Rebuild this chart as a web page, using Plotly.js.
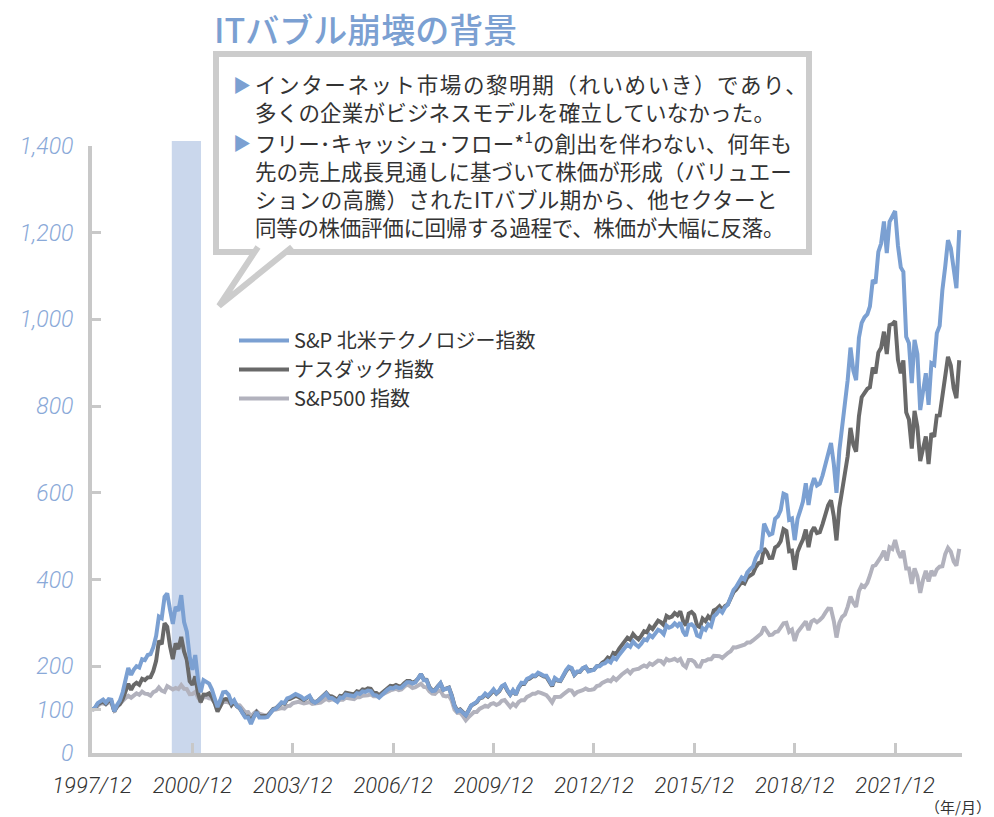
<!DOCTYPE html>
<html>
<head>
<meta charset="utf-8">
<script src="https://cdn.plot.ly/plotly-3.0.1.min.js"></script>
<style>
  html, body { margin: 0; padding: 0; background: #fff; }
  #chart { width: 994px; height: 817px; }
</style>
</head>
<body>
<div id="chart"></div>
<script>
// Monthly index values, 1997/12 = 100, from 1997/12 to 2023/11
const firstMonth = [1997, 12];

const techIndex = [
  100,
  104, 115, 120, 123, 116, 124, 123, 96, 111, 121, 140, 168,
  196, 180, 192, 200, 197, 216, 214, 226, 228, 244, 270, 315,
  311, 360, 368, 330, 298, 337, 328, 364, 302, 280, 222, 192,
  226, 168, 140, 168, 165, 160, 147, 128, 106, 122, 140, 141,
  134, 116, 122, 108, 104, 92, 82, 82, 67, 82, 94, 82,
  81, 82, 83, 91, 100, 102, 111, 117, 115, 126, 128, 131,
  136, 133, 130, 124, 128, 132, 120, 116, 120, 125, 133, 137,
  127, 127, 123, 118, 128, 127, 135, 133, 133, 131, 138, 136,
  142, 141, 144, 143, 134, 133, 128, 135, 140, 146, 150, 149,
  153, 150, 151, 158, 163, 163, 160, 163, 171, 182, 168, 168,
  150, 143, 144, 153, 161, 146, 147, 150, 131, 108, 96, 99,
  93, 87, 97, 110, 114, 118, 127, 129, 137, 132, 139, 147,
  138, 144, 154, 158, 145, 135, 145, 135, 152, 162, 161, 171,
  174, 179, 178, 185, 182, 178, 178, 166, 156, 173, 168, 167,
  181, 191, 199, 196, 181, 188, 188, 196, 199, 188, 190, 192,
  200, 200, 205, 207, 213, 209, 220, 216, 226, 235, 243, 250,
  245, 257, 250, 245, 252, 262, 260, 272, 267, 275, 284, 281,
  274, 294, 289, 292, 299, 293, 301, 280, 270, 295, 297, 291,
  271, 268, 288, 284, 297, 292, 315, 321, 330, 324, 336, 342,
  361, 376, 383, 393, 405, 400, 416, 424, 430, 449, 462, 468,
  529, 514, 503, 506, 540, 546, 560, 598, 595, 538, 541, 491,
  540, 560, 580, 622, 572, 614, 634, 617, 621, 640, 666, 693,
  715, 666, 600, 697, 752, 798, 860, 935, 882, 860, 958, 992,
  1005, 1012, 1030, 1091, 1083, 1156, 1175, 1226, 1153, 1225, 1240, 1250,
  1170, 1120, 1110, 960, 945, 853, 953, 920, 791, 835, 876, 803,
  899, 895, 968, 985, 1068, 1122, 1183, 1164, 1114, 1072, 1206
];

const nasdaqIndex = [
  100,
  103.1, 112.7, 116.9, 119.0, 113.3, 120.7, 119.2, 95.5, 107.9, 112.8, 124.1, 139.6,
  159.6, 145.7, 156.7, 161.9, 157.3, 171.1, 168.0, 174.4, 174.9, 188.9, 212.4, 259.1,
  250.9, 299.1, 291.2, 245.8, 216.6, 252.6, 239.9, 267.9, 233.9, 214.6, 165.4, 157.3,
  176.6, 137.0, 117.2, 134.8, 134.4, 137.6, 129.1, 115.0, 95.4, 107.6, 122.9, 124.2,
  123.2, 110.3, 117.5, 107.5, 102.9, 93.2, 84.6, 83.7, 74.6, 84.7, 94.2, 85.0,
  84.1, 85.2, 85.4, 93.2, 101.6, 103.3, 110.5, 115.3, 113.8, 123.0, 124.8, 127.6,
  131.6, 129.3, 127.0, 122.3, 126.5, 130.4, 120.2, 117.1, 120.8, 125.8, 133.5, 138.5,
  131.3, 130.7, 127.3, 122.4, 131.7, 131.0, 139.1, 137.0, 137.0, 135.0, 142.2, 140.4,
  146.8, 145.3, 149.0, 147.9, 138.8, 138.3, 133.2, 139.1, 143.8, 150.7, 154.9, 153.8,
  156.9, 153.9, 154.2, 160.8, 165.9, 165.8, 162.1, 165.3, 172.0, 182.1, 169.5, 168.9,
  152.2, 144.6, 145.1, 153.6, 160.6, 146.0, 148.1, 150.8, 133.2, 109.6, 97.8, 100.4,
  94.0, 87.7, 97.3, 109.4, 113.0, 116.9, 126.0, 127.9, 135.2, 130.2, 136.6, 144.5,
  136.7, 142.5, 152.7, 156.7, 143.7, 134.3, 143.6, 134.6, 150.8, 159.7, 159.1, 168.9,
  171.9, 177.2, 177.1, 183.0, 180.6, 176.6, 175.5, 164.3, 153.8, 170.9, 166.9, 165.9,
  179.2, 188.9, 196.9, 194.0, 180.0, 186.9, 187.2, 195.3, 198.4, 189.6, 191.7, 192.3,
  200.1, 201.2, 208.1, 212.0, 220.1, 216.7, 230.9, 228.6, 240.2, 249.6, 258.5, 266.0,
  261.3, 274.3, 267.4, 262.0, 270.2, 280.7, 278.3, 291.7, 286.1, 294.9, 305.1, 301.6,
  295.2, 316.1, 312.1, 314.7, 322.9, 317.6, 326.6, 304.2, 294.2, 321.8, 325.3, 318.9,
  293.8, 290.3, 310.1, 304.1, 315.1, 308.4, 328.7, 332.0, 338.3, 330.4, 339.0, 342.8,
  357.6, 371.0, 376.5, 385.1, 394.7, 391.0, 404.3, 409.4, 413.7, 428.4, 437.7, 439.6,
  472.0, 463.1, 449.8, 450.0, 473.9, 478.3, 488.5, 516.4, 512.4, 465.2, 466.8, 422.5,
  463.7, 479.7, 492.2, 515.5, 474.6, 509.8, 520.6, 507.1, 509.4, 528.1, 551.8, 571.4,
  582.7, 545.6, 490.3, 566.1, 604.3, 640.5, 684.3, 749.9, 711.1, 694.9, 776.8, 820.7,
  832.3, 840.1, 843.6, 889.1, 875.5, 923.6, 934.4, 971.7, 920.1, 986.9, 989.4, 996.3,
  906.8, 875.7, 905.6, 785.5, 769.3, 702.3, 789.0, 752.5, 673.5, 699.7, 730.3, 666.5,
  737.7, 729.5, 778.3, 778.6, 823.7, 878.0, 913.6, 893.8, 841.8, 818.4, 905.9
];

const sp500Index = [
  100,
  101.0, 108.1, 113.5, 114.6, 112.4, 116.8, 115.5, 98.6, 104.8, 113.2, 119.9, 126.7,
  131.9, 127.6, 132.6, 137.6, 134.2, 141.5, 136.9, 136.1, 132.2, 140.4, 143.1, 151.4,
  143.7, 140.8, 154.4, 149.7, 146.4, 149.9, 147.4, 156.4, 148.0, 147.3, 135.5, 136.1,
  140.8, 127.8, 119.6, 128.8, 129.4, 126.2, 124.8, 116.8, 107.3, 109.2, 117.4, 118.3,
  116.5, 114.0, 118.2, 111.0, 110.0, 102.0, 93.9, 94.4, 84.0, 91.3, 96.5, 90.7,
  88.2, 86.7, 87.4, 94.5, 99.3, 100.4, 102.0, 103.9, 102.6, 108.3, 109.0, 114.6,
  116.6, 118.0, 116.1, 114.1, 115.5, 117.6, 113.5, 113.8, 114.9, 116.5, 121.0, 124.9,
  121.7, 124.0, 121.7, 119.2, 122.8, 122.8, 127.2, 125.8, 126.6, 124.4, 128.8, 128.6,
  131.9, 132.0, 133.4, 135.1, 130.9, 130.9, 131.6, 134.4, 137.7, 142.0, 144.3, 146.2,
  148.2, 145.0, 146.4, 152.8, 157.7, 154.9, 150.0, 151.9, 157.3, 159.7, 152.6, 151.3,
  142.1, 137.1, 136.3, 142.8, 144.3, 131.9, 130.6, 132.2, 120.2, 99.8, 92.4, 93.1,
  85.1, 75.7, 82.2, 89.9, 94.7, 94.7, 101.8, 105.2, 108.9, 106.8, 112.9, 114.9,
  110.7, 113.8, 120.5, 122.3, 112.3, 106.2, 113.5, 108.1, 117.6, 121.9, 121.7, 129.6,
  132.5, 136.8, 136.6, 140.5, 138.6, 136.1, 133.2, 125.6, 116.6, 129.1, 128.5, 129.6,
  135.2, 140.7, 145.1, 144.1, 135.0, 140.4, 142.1, 144.9, 148.5, 145.5, 145.9, 147.0,
  154.4, 156.1, 161.7, 164.6, 168.0, 165.5, 173.7, 168.3, 173.3, 181.0, 186.1, 190.5,
  183.7, 191.6, 192.9, 194.1, 198.2, 202.0, 199.0, 206.4, 203.2, 208.0, 213.1, 212.2,
  205.6, 216.9, 213.1, 214.9, 217.2, 212.6, 216.8, 203.2, 197.9, 214.3, 214.4, 210.6,
  199.9, 199.1, 212.3, 212.8, 216.1, 216.3, 224.0, 223.7, 223.4, 219.1, 226.6, 230.7,
  234.8, 243.6, 243.5, 245.7, 248.5, 249.7, 254.6, 254.7, 259.6, 265.4, 272.8, 275.5,
  291.0, 279.7, 272.1, 272.9, 278.8, 280.1, 290.2, 299.0, 300.3, 279.4, 284.4, 258.3,
  278.6, 286.9, 292.1, 303.6, 283.6, 303.1, 307.1, 301.6, 306.7, 313.0, 323.7, 332.9,
  332.4, 304.4, 266.3, 300.1, 313.7, 319.5, 337.1, 360.7, 346.5, 337.0, 373.2, 387.1,
  382.7, 392.7, 409.4, 430.9, 433.2, 442.8, 452.9, 466.1, 443.9, 474.6, 470.6, 491.1,
  465.3, 450.7, 466.8, 425.8, 425.8, 390.1, 425.6, 407.6, 369.5, 399.0, 420.4, 395.6,
  420.1, 409.1, 423.5, 429.7, 430.7, 458.6, 472.9, 464.5, 441.9, 432.2, 470.7
];

const seriesNames = ["S&P 北米テクノロジー指数", "ナスダック指数", "S&P500 指数"];

const xTickVals = ["1997-12-01", "2000-12-01", "2003-12-01", "2006-12-01", "2009-12-01",
                   "2012-12-01", "2015-12-01", "2018-12-01", "2021-12-01"];
const xTickText = ["1997/12", "2000/12", "2003/12", "2006/12", "2009/12",
                   "2012/12", "2015/12", "2018/12", "2021/12"];
const yTickVals = [0, 100, 200, 400, 600, 800, 1000, 1200, 1400];
const yTickText = ["0", "100", "200", "400", "600", "800", "1,000", "1,200", "1,400"];

// IT bubble collapse period
const bubbleBand = ["2000-04-20", "2001-03-05"];

const titleText = "ITバブル崩壊の背景";
const notes = [
  ["インターネット市場の黎明期（れいめいき）であり、",
   "多くの企業がビジネスモデルを確立していなかった。"],
  ["フリー･キャッシュ･フロー*<sup>1</sup>の創出を伴わない、何年も",
   "先の売上成長見通しに基づいて株価が形成（バリュエー",
   "ションの高騰）されたITバブル期から、他セクターと",
   "同等の株価評価に回帰する過程で、株価が大幅に反落。"]
];
// letter spacing per line so the lines fill the box the way the original does
const noteSpacing = [[1.6, 0.2], [0.1, 0.0, 0.4, -0.3]];

// month strings for the x axis
const months = [];
for (let i = 0; i < techIndex.length; i++) {
  const total = firstMonth[0] * 12 + (firstMonth[1] - 1) + i;
  const y = Math.floor(total / 12);
  const m = (total % 12) + 1;
  months.push(y + "-" + String(m).padStart(2, "0") + "-01");
}

// plot area in pixels (used to place the call-out box and notes)
const W = 994, H = 817;
const M = { l: 92, r: 32, t: 146, b: 64 };
const plotW = W - M.l - M.r;
const plotH = H - M.t - M.b;
const px = x => (x - M.l) / plotW;
const py = y => (H - M.b - y) / plotH;

const jp = "'Noto Sans CJK JP', 'Noto Sans', sans-serif";
const latin = "Roboto, 'Liberation Sans', sans-serif";
const blue = "#7ba0d2";

const traces = [
  { x: months, y: sp500Index, name: seriesNames[2], type: "scatter", mode: "lines",
    line: { color: "#b2b2bd", width: 4 } },
  { x: months, y: nasdaqIndex, name: seriesNames[1], type: "scatter", mode: "lines",
    line: { color: "#696969", width: 4 } },
  { x: months, y: techIndex, name: seriesNames[0], type: "scatter", mode: "lines",
    line: { color: blue, width: 4 } }
];

const annotations = [
  { xref: "paper", yref: "paper", x: px(212), y: py(29), xanchor: "left", yanchor: "middle",
    text: titleText, showarrow: false,
    font: { family: jp, size: 34, color: blue, weight: 500 } },
  { xref: "paper", yref: "paper", x: px(993), y: py(806), xanchor: "right", yanchor: "middle",
    text: "（年/月）", showarrow: false,
    font: { family: jp, size: 15, color: "#333" } }
];

const paraCenter = [97, 184];
notes.forEach((lines, p) => {
  const text = lines.map((t, i) =>
    `<span style="letter-spacing:${noteSpacing[p][i]}px">${t}</span>`).join("<br>");
  annotations.push({
    xref: "paper", yref: "paper", x: px(254), y: py(paraCenter[p]), xanchor: "left", yanchor: "middle",
    align: "left", text: text, showarrow: false, borderpad: 0,
    font: { family: jp, size: 21.5, color: "#333" }
  });
});
const bulletY = [84, 142];
bulletY.forEach(yy => {
  annotations.push({
    xref: "paper", yref: "paper", x: px(231), y: py(yy), xanchor: "left", yanchor: "middle",
    text: "▶", showarrow: false, font: { family: jp, size: 18, color: blue }
  });
});

const boxGray = "#cccccc";
const shapes = [
  { type: "rect", xref: "x", yref: "paper", x0: bubbleBand[0], x1: bubbleBand[1],
    y0: 0, y1: py(141), fillcolor: "#cad7ec", line: { width: 0 }, layer: "below" },
  { type: "rect", xref: "paper", yref: "paper", x0: px(216), x1: px(809), y0: py(54), y1: py(252),
    fillcolor: "#fff", line: { color: boxGray, width: 6 } },
  { type: "path", xref: "paper", yref: "paper",
    path: `M ${px(258)},${py(247)} L ${px(219)},${py(306)} L ${px(292)},${py(247)}`,
    fillcolor: "#fff", line: { color: boxGray, width: 6 } }
];

const layout = {
  width: W, height: H,
  margin: M,
  paper_bgcolor: "#fff",
  plot_bgcolor: "#fff",
  showlegend: true,
  legend: {
    x: px(234), y: py(321), xanchor: "left", yanchor: "top",
    traceorder: "reversed", bgcolor: "rgba(0,0,0,0)",
    font: { family: jp, size: 20, color: "#333" },
    itemwidth: 50, tracegroupgap: 0
  },
  xaxis: {
    type: "date",
    range: ["1997-12-01", "2023-12-01"],
    tickvals: xTickVals, ticktext: xTickText,
    ticks: "inside", ticklen: 10, tickwidth: 3, tickcolor: "#c8c8c8",
    showline: true, linecolor: "#c8c8c8", linewidth: 4,
    showgrid: false, zeroline: false,
    ticklabelstandoff: 10,
    tickfont: { family: latin, size: 22, color: "#333", style: "italic", weight: 300 }
  },
  yaxis: {
    range: [0, 1400],
    tickvals: yTickVals, ticktext: yTickText,
    ticks: "inside", ticklen: 9, tickwidth: 3, tickcolor: "#c8c8c8",
    showline: true, linecolor: "#c8c8c8", linewidth: 4,
    showgrid: false, zeroline: false,
    ticklabelstandoff: 10,
    tickfont: { family: latin, size: 23, color: "#8aa9d8", style: "italic", weight: 300 }
  },
  shapes: shapes,
  annotations: annotations
};

Plotly.newPlot("chart", traces, layout, { displayModeBar: false, staticPlot: true });
</script>
</body>
</html>
